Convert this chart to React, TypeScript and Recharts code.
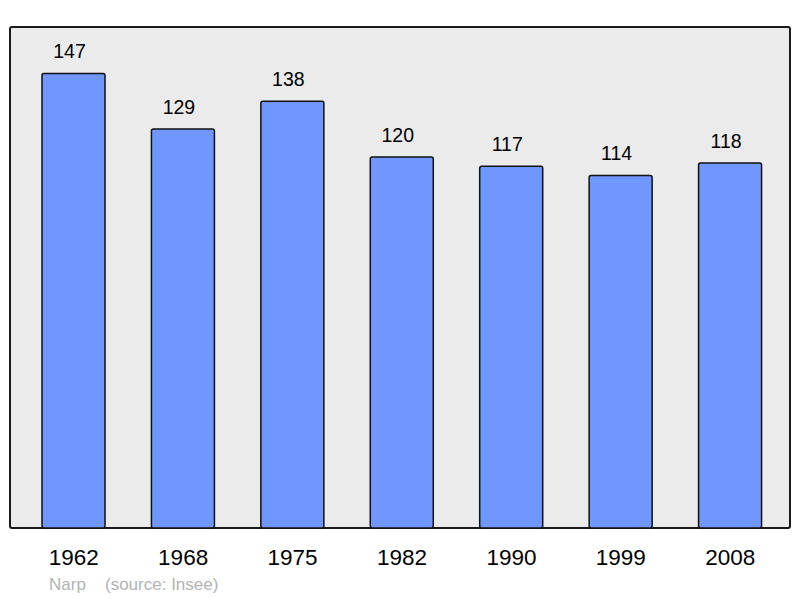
import { BarChart, Bar, XAxis, YAxis, LabelList } from "recharts"

// population data (Narp, source: Insee)
const years = ["1962", "1968", "1975", "1982", "1990", "1999", "2008"]
const population = [147, 129, 138, 120, 117, 114, 118]

const data = years.map((year, i) => ({ year, population: population[i] }))

const FONT = '"Liberation Sans", Arial, sans-serif'

// value label sits a little left of the bar centre, as in the original
function ValueLabel(props: any) {
  const { x, y, width, value } = props
  return (
    <text
      x={x + width / 2 - 4}
      y={y - 15}
      textAnchor="middle"
      fontSize={19.5}
      fontFamily={FONT}
      fill="#000"
    >
      {value}
    </text>
  )
}

export default function App() {
  return (
    <div style={{ position: "absolute", left: 0, top: 0, width: 800, height: 598, background: "#fff", fontFamily: FONT }}>
      {/* frame behind the plot */}
      <div
        style={{
          position: "absolute",
          left: 9,
          top: 26,
          width: 782,
          height: 503,
          boxSizing: "border-box",
          border: "2px solid #1a1a1a",
          borderRadius: 3,
          background: "#ebebeb",
        }}
      />
      <div style={{ position: "absolute", left: 0, top: 0 }}>
        <BarChart
          width={800}
          height={598}
          data={data}
          margin={{ top: 27, right: 15, left: 19, bottom: 40 }}
        >
          <XAxis
            dataKey="year"
            height={30}
            axisLine={false}
            tickLine={false}
            tickMargin={15}
            interval={0}
            tick={{ fontSize: 22.5, fill: "#000", fontFamily: FONT }}
          />
          <YAxis hide domain={[0, 162]} />
          <Bar
            dataKey="population"
            barSize={63}
            fill="#7096ff"
            stroke="#111"
            strokeWidth={1.5}
            radius={2}
            isAnimationActive={false}
          >
            <LabelList dataKey="population" content={ValueLabel} />
          </Bar>
        </BarChart>
      </div>
      <div style={{ position: "absolute", left: 49, top: 575, fontSize: 17, color: "#b3b3b3" }}>Narp</div>
      <div style={{ position: "absolute", left: 105, top: 575, fontSize: 17, color: "#b3b3b3" }}>(source: Insee)</div>
    </div>
  )
}
